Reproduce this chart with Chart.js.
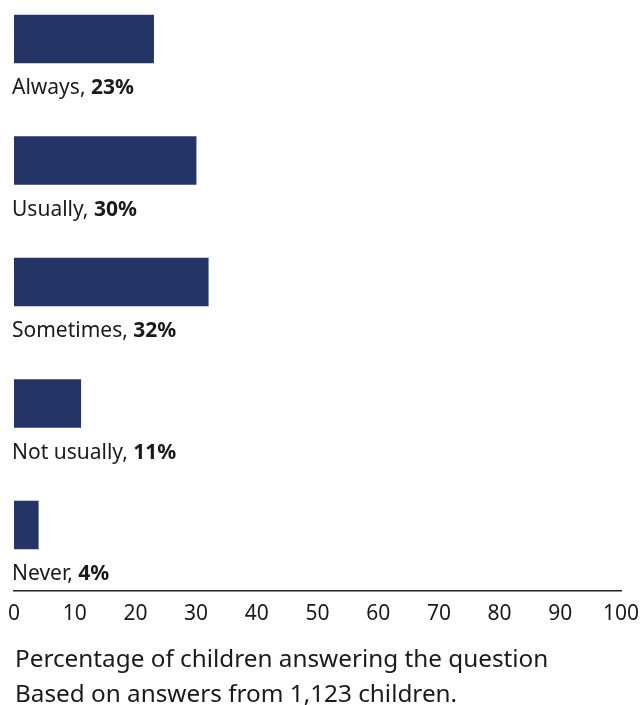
<!DOCTYPE html>
<html>
<head>
<meta charset="utf-8">
<script src="https://cdn.jsdelivr.net/npm/chart.js@4/dist/chart.umd.min.js"></script>
<style>
    html, body { margin: 0; padding: 0; background: #fff; }
    #wrap { position: relative; width: 643px; height: 705px; }
</style>
</head>
<body>
<div id="wrap"><canvas id="chart" width="643" height="705"></canvas></div>
<script>
// answers, top to bottom
const categories = ['Always', 'Usually', 'Sometimes', 'Not usually', 'Never'];
const percentages = [23, 30, 32, 11, 4];
const xTicks = [0, 10, 20, 30, 40, 50, 60, 70, 80, 90, 100];
const footerLines = [
    'Percentage of children answering the question',
    'Based on answers from 1,123 children.'
];

const BAR_COLOR = '#243466';
const TEXT_COLOR = '#1a1a1a';
const FONT = '"Noto Sans", "Open Sans", sans-serif';

// label under each bar: "Always, " + bold "23%"
const barLabels = {
    id: 'barLabels',
    afterDatasetsDraw(chart) {
        const { ctx } = chart;
        const meta = chart.getDatasetMeta(0);
        ctx.save();
        ctx.fillStyle = TEXT_COLOR;
        ctx.textBaseline = 'alphabetic';
        meta.data.forEach((bar, i) => {
            const y = bar.y + bar.height / 2 + 31;
            const x = chart.chartArea.left - 2;
            const name = categories[i] + ', ';
            ctx.font = `21px ${FONT}`;
            ctx.fillText(name, x, y);
            const w = ctx.measureText(name).width;
            ctx.font = `bold 21px ${FONT}`;
            ctx.fillText(percentages[i] + '%', x + w, y);
        });
        ctx.restore();
    }
};

const footer = {
    id: 'footer',
    afterDraw(chart) {
        const { ctx } = chart;
        ctx.save();
        ctx.fillStyle = TEXT_COLOR;
        ctx.font = `24.3px ${FONT}`;
        ctx.textBaseline = 'alphabetic';
        footerLines.forEach((line, i) => {
            ctx.fillText(line, 15, 667 + i * 35);
        });
        ctx.restore();
    }
};

new Chart(document.getElementById('chart').getContext('2d'), {
    type: 'bar',
    data: {
        datasets: [{
            data: percentages.map((v, i) => ({ x: v, y: i })),
            backgroundColor: BAR_COLOR,
            borderWidth: 0,
            barThickness: 48
        }]
    },
    options: {
        indexAxis: 'y',
        responsive: false,
        animation: false,
        layout: { padding: { left: 14, right: 22, top: 0, bottom: 0 } },
        plugins: {
            legend: { display: false },
            tooltip: { enabled: false }
        },
        scales: {
            x: {
                type: 'linear',
                min: 0,
                max: 100,
                afterBuildTicks(scale) {
                    scale.ticks = xTicks.map(v => ({ value: v }));
                },
                afterFit(scale) {
                    scale.height = 114;
                    scale.paddingLeft = 0;
                    scale.paddingRight = 0;
                },
                grid: { display: false, drawTicks: false },
                border: { display: true, color: '#222', width: 1.5 },
                ticks: {
                    color: TEXT_COLOR,
                    font: { family: FONT, size: 21 },
                    padding: 10
                }
            },
            y: {
                type: 'linear',
                reverse: true,
                offset: false,
                min: -0.321,
                max: 4.543,
                display: false
            }
        }
    },
    plugins: [barLabels, footer]
});
</script>
</body>
</html>
